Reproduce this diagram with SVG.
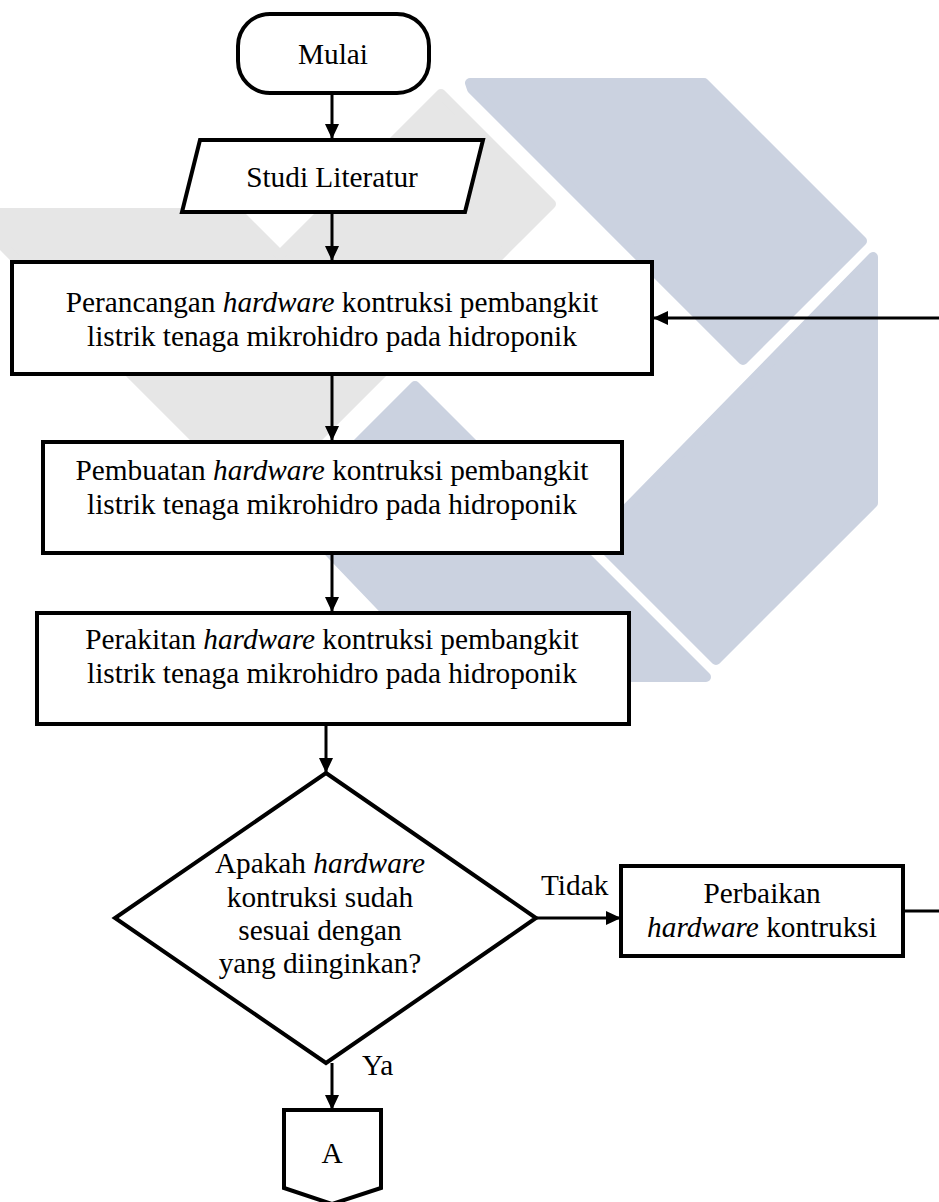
<svg xmlns="http://www.w3.org/2000/svg" width="939" height="1202" viewBox="0 0 939 1202">
<style type="text/css">
.bg{fill:#ffffff}
.wg{fill:#e6e6e6;stroke:#e6e6e6;stroke-width:10;stroke-linejoin:round}
.wb{fill:#cbd2e0;stroke:#cbd2e0;stroke-width:10;stroke-linejoin:round}
.box{fill:#ffffff;stroke:#000000;stroke-width:4}
.ln{fill:none;stroke:#000000;stroke-width:3}
.t{font-family:'Liberation Serif','Times New Roman',Times,serif;font-size:29.3px;fill:#000000}
.c{text-anchor:middle}
.i{font-style:italic}
</style>
<defs>
<marker id="ah" viewBox="0 0 15 14" refX="15" refY="7" markerWidth="15" markerHeight="14" orient="auto" markerUnits="userSpaceOnUse">
<path d="M0,0 L15,7 L0,14 z" fill="#000000"/>
</marker>
</defs>
<rect class="bg" x="0" y="0" width="939" height="1202"/>
<g id="watermark">
<polygon class="wg" points="-10,213 238,213 280,255 441,94 551,204 256,499 -10,233"/>
<polygon class="wb" points="470,83 704,83 862,241 743,360 472,89"/>
<polygon class="wb" points="415,386 706,677 449,677 290,511"/>
<polygon class="wb" points="873,257 873,503 716,660 596,540"/>
</g>
<g id="connectors">
<line class="ln" x1="332" y1="93" x2="332" y2="139" marker-end="url(#ah)"/>
<line class="ln" x1="332" y1="212" x2="332" y2="261" marker-end="url(#ah)"/>
<line class="ln" x1="939" y1="318" x2="653" y2="318" marker-end="url(#ah)"/>
<line class="ln" x1="332" y1="374" x2="332" y2="441" marker-end="url(#ah)"/>
<line class="ln" x1="332" y1="553" x2="332" y2="612" marker-end="url(#ah)"/>
<line class="ln" x1="326" y1="724" x2="326" y2="773" marker-end="url(#ah)"/>
<line class="ln" x1="536" y1="918" x2="621" y2="918" marker-end="url(#ah)"/>
<line class="ln" x1="903" y1="911" x2="939" y2="911"/>
<line class="ln" x1="332" y1="1063" x2="332" y2="1110" marker-end="url(#ah)"/>
<text class="t" x="541" y="895">Tidak</text>
<text class="t" x="362" y="1075">Ya</text>
</g>
<g id="mulai">
<rect class="box" x="238" y="14" width="191" height="79" rx="32" ry="32"/>
<text class="t c" x="333" y="64">Mulai</text>
</g>
<g id="studi">
<polygon class="box" points="200,140 483,140 465,212 182,212"/>
<text class="t c" x="332" y="187">Studi Literatur</text>
</g>
<g id="perancangan">
<rect class="box" x="12" y="262" width="640" height="112"/>
<text class="t c" x="332" y="312">Perancangan <tspan class="i">hardware</tspan> kontruksi pembangkit</text>
<text class="t c" x="332" y="346">listrik tenaga mikrohidro pada hidroponik</text>
</g>
<g id="pembuatan">
<rect class="box" x="43" y="442" width="579" height="111"/>
<text class="t c" x="332" y="480">Pembuatan <tspan class="i">hardware</tspan> kontruksi pembangkit</text>
<text class="t c" x="332" y="514">listrik tenaga mikrohidro pada hidroponik</text>
</g>
<g id="perakitan">
<rect class="box" x="37" y="613" width="592" height="111"/>
<text class="t c" x="332" y="649">Perakitan <tspan class="i">hardware</tspan> kontruksi pembangkit</text>
<text class="t c" x="332" y="683">listrik tenaga mikrohidro pada hidroponik</text>
</g>
<g id="keputusan">
<polygon class="box" points="326,773 536,918 326,1063 115,918"/>
<text class="t c" x="320" y="873">Apakah <tspan class="i">hardware</tspan></text>
<text class="t c" x="320" y="907">kontruksi sudah</text>
<text class="t c" x="320" y="940">sesuai dengan</text>
<text class="t c" x="320" y="973">yang diinginkan?</text>
</g>
<g id="perbaikan">
<rect class="box" x="621" y="866" width="282" height="90"/>
<text class="t c" x="762" y="903">Perbaikan</text>
<text class="t c" x="762" y="937"><tspan class="i">hardware</tspan> kontruksi</text>
</g>
<g id="konektor-a">
<polygon class="box" points="284,1110 381,1110 381,1188 332,1204 284,1188"/>
<text class="t c" x="332" y="1163">A</text>
</g>
</svg>
